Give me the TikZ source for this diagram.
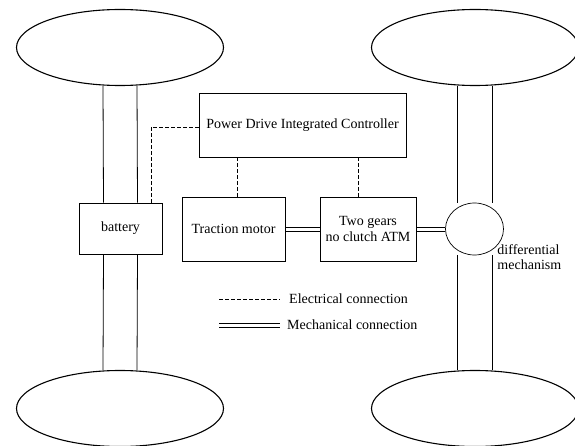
\documentclass[tikz,border=0pt]{standalone}
\usepackage{fontspec}
\setmainfont{Liberation Serif}
\usepackage{tikz}
\usetikzlibrary{shapes.geometric}
\usetikzlibrary{positioning}
\tikzstyle{wheel} = [ellipse, draw=black, line width=1.1pt, minimum width=207pt, minimum height=76pt, inner sep=0pt]
\tikzstyle{block} = [rectangle, draw=black, line width=0.7pt, inner sep=0pt, align=center, font=\fontsize{14}{16}\selectfont]
\tikzstyle{textlabel} = [inner sep=0pt, align=left, font=\fontsize{14}{15}\selectfont]
\tikzstyle{elec} = [line width=0.7pt, dash pattern=on 3.5pt off 2.5pt]
\tikzstyle{mech} = [line width=0.7pt]
\tikzstyle{shaft} = [line width=0.8pt]

\begin{document}
\begin{tikzpicture}[x=1pt, y=-1pt]
    \useasboundingbox (0,0) rectangle (575,446);
    % wheels
    \node(wheelTL)[wheel] at (120,47.5) {};
    \node(wheelTR)[wheel] at (475,47.5) {};
    \node(wheelBL)[wheel] at (120,408.5) {};
    \node(wheelBR)[wheel] at (475,408.5) {};
    % blocks
    \node(pdic)[block, minimum width=207pt, minimum height=64pt] at (302.5,125) {Power Drive Integrated Controller};
    \node(battery)[block, minimum width=83pt, minimum height=51pt] at (120.5,228.5) {battery};
    \node(motor)[block, minimum width=103pt, minimum height=64pt] at (233.5,229) {Traction motor};
    \node(atm)[block, minimum width=96pt, minimum height=64pt] at (368,229) {Two gears\\no clutch ATM};
    \node(diff)[ellipse, draw=black, line width=0.7pt, minimum width=58pt, minimum height=52pt, inner sep=0pt] at (474.5,229) {};
    \node(difftext)[textlabel, anchor=north west] at ([xshift=2pt,yshift=3pt]diff.south east) {differential\\mechanism};
    %
    \draw[shaft] ([xshift=-17pt]wheelTL.south) -- ([xshift=-17pt]battery.north);
    \draw[shaft] ([xshift=17pt]wheelTL.south) -- ([xshift=17pt]battery.north);
    \draw[shaft] ([xshift=-17pt]battery.south) -- ([xshift=-17pt]wheelBL.north);
    \draw[shaft] ([xshift=17pt]battery.south) -- ([xshift=17pt]wheelBL.north);
    \draw[shaft] ([xshift=-17.5pt]wheelTR.south) -- ([xshift=-17.5pt]wheelTR.south |- diff.north);
    \draw[shaft] ([xshift=17.5pt]wheelTR.south) -- ([xshift=17.5pt]wheelTR.south |- diff.north);
    \draw[shaft] ([xshift=-17.5pt]wheelBR.north |- diff.south) -- ([xshift=-17.5pt]wheelBR.north);
    \draw[shaft] ([xshift=17.5pt]wheelBR.north |- diff.south) -- ([xshift=17.5pt]wheelBR.north);
    %
    \draw[elec] ([yshift=-2pt]pdic.west) -| ([xshift=30.5pt]battery.north);
    \draw[elec] ([xshift=3.5pt]motor.north) -- ([xshift=3.5pt]motor.north |- pdic.south);
    \draw[elec] ([xshift=-10pt]atm.north) -- ([xshift=-10pt]atm.north |- pdic.south);
    \draw[mech] ([yshift=-2pt]motor.east) -- ([yshift=-2pt]atm.west);
    \draw[mech] ([yshift=2pt]motor.east) -- ([yshift=2pt]atm.west);
    \draw[mech] ([yshift=-2pt]atm.east) -- ([yshift=-2pt]diff.west);
    \draw[mech] ([yshift=2pt]atm.east) -- ([yshift=2pt]diff.west);
    % legend
    \coordinate(elecA) at (219,299);
    \coordinate(elecB) at (280,299);
    \coordinate(mechA) at (219,325);
    \coordinate(mechB) at (280,325);
    \draw[elec] (elecA) -- (elecB);
    \draw[mech] ([yshift=-2pt]mechA) -- ([yshift=-2pt]mechB);
    \draw[mech] ([yshift=2pt]mechA) -- ([yshift=2pt]mechB);
    \node(eleclabel)[textlabel, anchor=west] at ([xshift=9pt]elecB) {Electrical connection};
    \node(mechlabel)[textlabel, anchor=west] at ([xshift=7pt]mechB) {Mechanical connection};
\end{tikzpicture}
\end{document}
